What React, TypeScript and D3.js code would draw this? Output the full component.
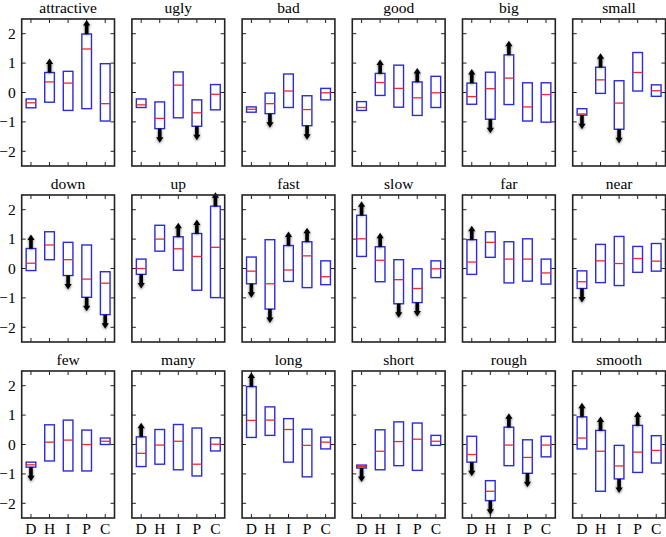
import * as d3 from 'd3'

const categories = ['D', 'H', 'I', 'P', 'C']
const titles = [
  'attractive', 'ugly', 'bad', 'good', 'big', 'small',
  'down', 'up', 'fast', 'slow', 'far', 'near',
  'few', 'many', 'long', 'short', 'rough', 'smooth',
]
const lows = [
  [-0.52, -0.33, -0.61, -0.55, -0.97],
  [-0.51, -1.23, -0.86, -1.15, -0.59],
  [-0.67, -0.72, -0.51, -1.13, -0.25],
  [-0.61, -0.10, -0.50, -0.78, -0.51],
  [-0.40, -0.91, -0.41, -0.97, -1.01],
  [-0.77, -0.03, -1.25, 0.05, -0.13],
  [-0.07, 0.30, -0.24, -0.98, -1.57],
  [-0.20, 0.59, -0.06, -0.74, -0.99],
  [-0.52, -1.38, -0.44, -0.65, -0.55],
  [0.41, -0.45, -1.20, -1.16, -0.31],
  [-0.20, 0.38, -0.49, -0.43, -0.53],
  [-0.68, -0.48, -0.58, -0.13, -0.09],
  [-0.77, -0.56, -0.90, -0.90, 0.0],
  [-0.75, -0.67, -0.86, -1.07, -0.22],
  [0.24, 0.31, -0.60, -1.10, -0.15],
  [-0.80, -0.86, -0.72, -0.88, -0.03],
  [-0.60, -1.91, -0.72, -0.98, -0.42],
  [-0.15, -1.59, -1.17, -0.95, -0.63],
]
const medians = [
  [-0.35, 0.36, 0.32, 1.48, -0.38],
  [-0.42, -0.88, 0.25, -0.69, -0.06],
  [-0.57, -0.38, 0.05, -0.58, -0.01],
  [-0.51, 0.34, 0.14, -0.18, -0.01],
  [-0.14, 0.13, 0.49, -0.49, -0.07],
  [-0.73, 0.43, -0.36, 0.68, 0.06],
  [0.18, 0.80, 0.30, -0.36, -0.50],
  [0.0, 1.0, 0.67, 0.41, 0.72],
  [-0.09, -0.52, -0.05, 0.43, -0.28],
  [1.01, 0.28, -0.38, -0.68, -0.01],
  [0.22, 0.89, 0.32, 0.32, -0.15],
  [-0.45, 0.26, 0.17, 0.34, 0.25],
  [-0.69, 0.08, 0.15, 0.0, 0.11],
  [-0.30, -0.02, 0.11, -0.67, 0.01],
  [0.82, 0.83, 0.51, -0.03, 0.08],
  [-0.75, -0.23, 0.10, 0.18, 0.11],
  [-0.34, -1.59, -0.02, -0.44, -0.02],
  [0.22, -0.23, -0.73, -0.26, -0.20],
]
const highs = [
  [-0.22, 0.68, 0.72, 1.99, 0.98],
  [-0.22, -0.32, 0.70, -0.25, 0.27],
  [-0.49, -0.02, 0.63, -0.11, 0.14],
  [-0.31, 0.65, 0.93, 0.36, 0.55],
  [0.32, 0.69, 1.28, 0.33, 0.33],
  [-0.55, 0.86, 0.40, 1.36, 0.26],
  [0.68, 1.25, 0.89, 0.80, -0.11],
  [0.32, 1.47, 1.08, 1.19, 2.12],
  [0.39, 0.98, 0.78, 0.91, 0.26],
  [1.81, 0.74, 0.30, -0.01, 0.26],
  [0.98, 1.25, 0.91, 1.01, 0.32],
  [-0.08, 0.82, 1.09, 0.75, 0.85],
  [-0.60, 0.67, 0.83, 0.49, 0.22],
  [0.26, 0.51, 0.68, 0.56, 0.23],
  [1.97, 1.28, 0.88, 0.52, 0.25],
  [-0.70, 0.50, 0.77, 0.73, 0.31],
  [0.28, -1.23, 0.59, 0.16, 0.28],
  [0.94, 0.48, -0.03, 0.65, 0.30],
]
// 1 = arrow up from box top, -1 = arrow down from box bottom, 0 = none
const arrows = [
  [0, 1, 0, 1, 0],
  [0, -1, 0, -1, 0],
  [0, -1, 0, -1, 0],
  [0, 1, 0, 1, 0],
  [1, -1, 1, 0, 0],
  [-1, 1, -1, 0, 0],
  [1, 0, -1, -1, -1],
  [-1, 0, 1, 1, 1],
  [-1, -1, 1, 1, 0],
  [1, 1, -1, -1, 0],
  [1, 0, 0, 0, 0],
  [-1, 0, 0, 0, 0],
  [-1, 0, 0, 0, 0],
  [1, 0, 0, 0, 0],
  [1, 0, 0, 0, 0],
  [-1, 0, 0, 0, 0],
  [-1, -1, 1, -1, 0],
  [1, 1, -1, 1, 0],
]
const yTicks = [-2, -1, 0, 1, 2]

function App() {
  const width = 666
  const height = 537
  const left0 = 21.7
  const top0 = 19
  const colStep = 110.2
  const rowStep = 176
  const pw = 92.8
  const ph = 147
  const tick = 4
  const textStyle = { fontFamily: "'Liberation Serif', 'Times New Roman', 'DejaVu Serif', serif", fontSize: '15.5px' }

  const x = d3.scaleLinear().domain([0.5, 5.5]).range([0, pw])
  const y = d3.scaleLinear().domain([-2.5, 2.5]).range([ph, 0])
  const half = x(1.26) - x(1)

  const arrowPath = (cx: number, ys: number, dir: number) => {
    const len = 14
    const sw = 1.8
    const hw = 3.6
    const hl = 5.5
    const s = -dir
    const p = d3.path()
    p.moveTo(cx - sw, ys)
    p.lineTo(cx - sw, ys + s * (len - hl))
    p.lineTo(cx - hw, ys + s * (len - hl))
    p.lineTo(cx, ys + s * len)
    p.lineTo(cx + hw, ys + s * (len - hl))
    p.lineTo(cx + sw, ys + s * (len - hl))
    p.lineTo(cx + sw, ys)
    p.closePath()
    return p.toString()
  }

  return (
    <svg width={width} height={height} style={{ position: 'absolute', left: 0, top: 0 }}>
      <defs>
        <filter id="shadow" x="-100%" y="-50%" width="300%" height="200%">
          <feDropShadow dx="0" dy="1" stdDeviation="1.5" floodColor="#000" floodOpacity="0.5" />
        </filter>
      </defs>
      <rect width={width} height={height} fill="white" />
      {titles.map((title, i) => {
        const col = i % 6
        const row = Math.floor(i / 6)
        const ox = left0 + col * colStep
        const oy = top0 + row * rowStep
        return (
          <g key={title} transform={`translate(${ox},${oy})`}>
            <text x={pw / 2} y={-6.5} textAnchor="middle" style={textStyle}>
              {title}
            </text>
            {yTicks.map(t => (
              <g key={t}>
                <line x1={0} x2={tick} y1={y(t)} y2={y(t)} stroke="#222" strokeWidth={1} />
                <line x1={pw - tick} x2={pw} y1={y(t)} y2={y(t)} stroke="#222" strokeWidth={1} />
              </g>
            ))}
            {categories.map((c, j) => (
              <g key={c}>
                <line x1={x(j + 1)} x2={x(j + 1)} y1={ph} y2={ph - tick} stroke="#222" strokeWidth={1} />
                <line x1={x(j + 1)} x2={x(j + 1)} y1={0} y2={tick} stroke="#222" strokeWidth={1} />
              </g>
            ))}
            {col === 0 && yTicks.map(t => (
              <text key={t} x={-6} y={y(t)} dy="0.34em" textAnchor="end" style={textStyle}>
                {t < 0 ? `\u2212${-t}` : `${t}`}
              </text>
            ))}
            {row === 2 && categories.map((c, j) => (
              <text key={c} x={x(j + 1)} y={ph + 16} textAnchor="middle" style={textStyle}>
                {c}
              </text>
            ))}
            {categories.map((c, j) => {
              const cx = x(j + 1)
              const lo = lows[i][j]
              const hi = highs[i][j]
              const md = medians[i][j]
              const dir = arrows[i][j]
              return (
                <g key={c}>
                  <rect
                    x={cx - half}
                    y={y(hi)}
                    width={half * 2}
                    height={Math.max(y(lo) - y(hi), 0.5)}
                    fill="none"
                    stroke="#2b2bdd"
                    strokeWidth={1.4}
                  />
                  <line x1={cx - half} x2={cx + half} y1={y(md)} y2={y(md)} stroke="#ee2a2a" strokeWidth={1.3} />
                  {dir !== 0 && (
                    <path d={arrowPath(cx, dir > 0 ? y(hi) : y(lo), dir)} fill="#000" filter="url(#shadow)" />
                  )}
                </g>
              )
            })}
            <rect x={0} y={0} width={pw} height={ph} fill="none" stroke="#222" strokeWidth={1.6} />
          </g>
        )
      })}
    </svg>
  )
}

export default App
